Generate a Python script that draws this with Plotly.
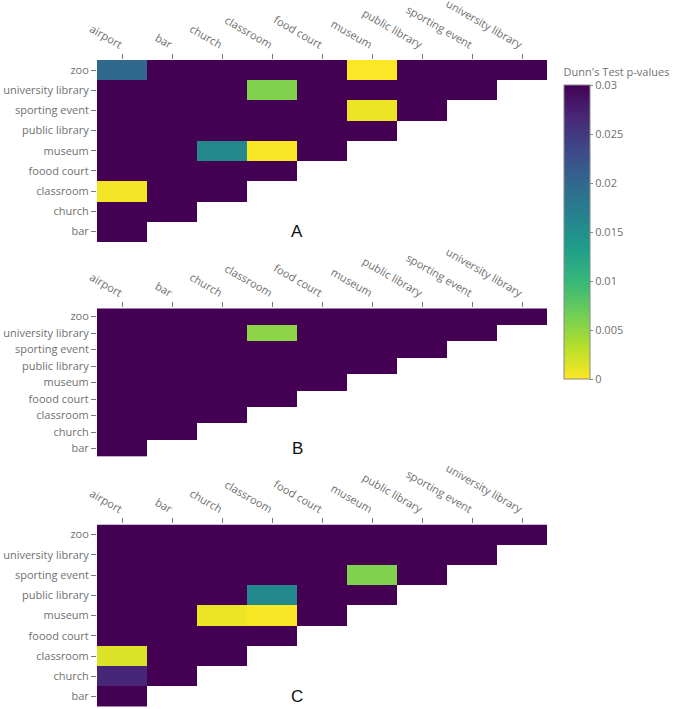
import plotly.graph_objects as go
import numpy as np

cols = ["airport", "bar", "church", "classroom", "food court", "museum",
        "public library", "sporting event", "university library"]
rows = ["bar", "church", "classroom", "foood court", "museum", "public library",
        "sporting event", "university library", "zoo"]

# Lower-triangle p-values, row by row (row i has i+1 values). 0.03 = at/above scale max.
panel_a = [
    [0.03],
    [0.03, 0.03],
    [0.0004, 0.03, 0.03],
    [0.03, 0.03, 0.03, 0.03],
    [0.03, 0.03, 0.016, 0.0002, 0.03],
    [0.03, 0.03, 0.03, 0.03, 0.03, 0.03],
    [0.03, 0.03, 0.03, 0.03, 0.03, 0.0008, 0.03],
    [0.03, 0.03, 0.03, 0.0058, 0.03, 0.03, 0.03, 0.03],
    [0.020, 0.03, 0.03, 0.03, 0.03, 0.0001, 0.03, 0.03, 0.03],
]
panel_b = [
    [0.03],
    [0.03, 0.03],
    [0.03, 0.03, 0.03],
    [0.03, 0.03, 0.03, 0.03],
    [0.03, 0.03, 0.03, 0.03, 0.03],
    [0.03, 0.03, 0.03, 0.03, 0.03, 0.03],
    [0.03, 0.03, 0.03, 0.03, 0.03, 0.03, 0.03],
    [0.03, 0.03, 0.03, 0.0053, 0.03, 0.03, 0.03, 0.03],
    [0.03, 0.03, 0.03, 0.03, 0.03, 0.03, 0.03, 0.03, 0.03],
]
panel_c = [
    [0.03],
    [0.0268, 0.03],
    [0.0015, 0.03, 0.03],
    [0.03, 0.03, 0.03, 0.03],
    [0.03, 0.03, 0.0008, 0.0002, 0.03],
    [0.03, 0.03, 0.03, 0.016, 0.03, 0.03],
    [0.03, 0.03, 0.03, 0.03, 0.03, 0.0058, 0.03],
    [0.03, 0.03, 0.03, 0.03, 0.03, 0.03, 0.03, 0.03],
    [0.03, 0.03, 0.03, 0.03, 0.03, 0.03, 0.03, 0.03, 0.03],
]
panel_labels = ["A", "B", "C"]
colorbar_title = "Dunn's Test p-values"


def to_matrix(tri):
    m = np.full((len(rows), len(cols)), np.nan)
    for i, r in enumerate(tri):
        for j, v in enumerate(r):
            m[i, j] = v
    return m


panels = [panel_a, panel_b, panel_c]
domains = [(0.7176, 1.0), (0.3827, 0.6168), (0.0, 0.2832)]

fig = go.Figure()
tick_font = dict(family="Open Sans, sans-serif", size=11, color="#707070")

for k, (tri, dom) in enumerate(zip(panels, domains)):
    suffix = "" if k == 0 else str(k + 1)
    fig.add_trace(go.Heatmap(
        z=to_matrix(tri), x=cols, y=rows, coloraxis="coloraxis",
        xaxis="x" + suffix, yaxis="y" + suffix, hoverongaps=False,
    ))
    fig.update_layout({
        "xaxis" + suffix: dict(
            domain=[0, 1], anchor="y" + suffix, side="top", tickangle=30,
            showgrid=False, zeroline=False, showline=False, automargin=False,
            ticks="outside", ticklen=5, tickcolor="#777777",
            tickfont=tick_font, categoryorder="array", categoryarray=cols,
        ),
        "yaxis" + suffix: dict(
            domain=list(dom), anchor="x" + suffix, automargin=False,
            showgrid=False, zeroline=False, showline=False,
            ticks="outside", ticklen=5, tickcolor="#777777",
            tickfont=tick_font, categoryorder="array", categoryarray=rows,
        ),
    })
    fig.add_annotation(
        x=3.5, y="bar", xref="x" + suffix, yref="y" + suffix,
        text=panel_labels[k], showarrow=False,
        font=dict(family="Liberation Sans, Arial, sans-serif", size=17, color="#111111"),
    )

fig.update_layout(
    width=673, height=709,
    margin=dict(l=97, r=126, t=60, b=1, autoexpand=False),
    paper_bgcolor="white", plot_bgcolor="white",
    font=dict(family="Open Sans, sans-serif", color="#707070"),
    coloraxis=dict(
        colorscale="Viridis_r", cmin=0, cmax=0.03,
        colorbar=dict(
            title=dict(text=colorbar_title, side="top",
                       font=dict(size=11, color="#707070")),
            x=1.038, xanchor="left", y=0.75, yanchor="middle",
            len=0.5154, lenmode="fraction", thickness=26,
            outlinecolor="#888888", outlinewidth=1, xpad=0,
            tick0=0, dtick=0.005, ticks="outside", ticklen=3,
            tickcolor="#888888", tickfont=dict(size=11, color="#707070"),
        ),
    ),
    showlegend=False,
)

# remove the browser's default 8px body margin so the figure fills the window
fig.write_html("out.html", config={"displayModeBar": False},
               post_script="document.body.style.margin='0';")
